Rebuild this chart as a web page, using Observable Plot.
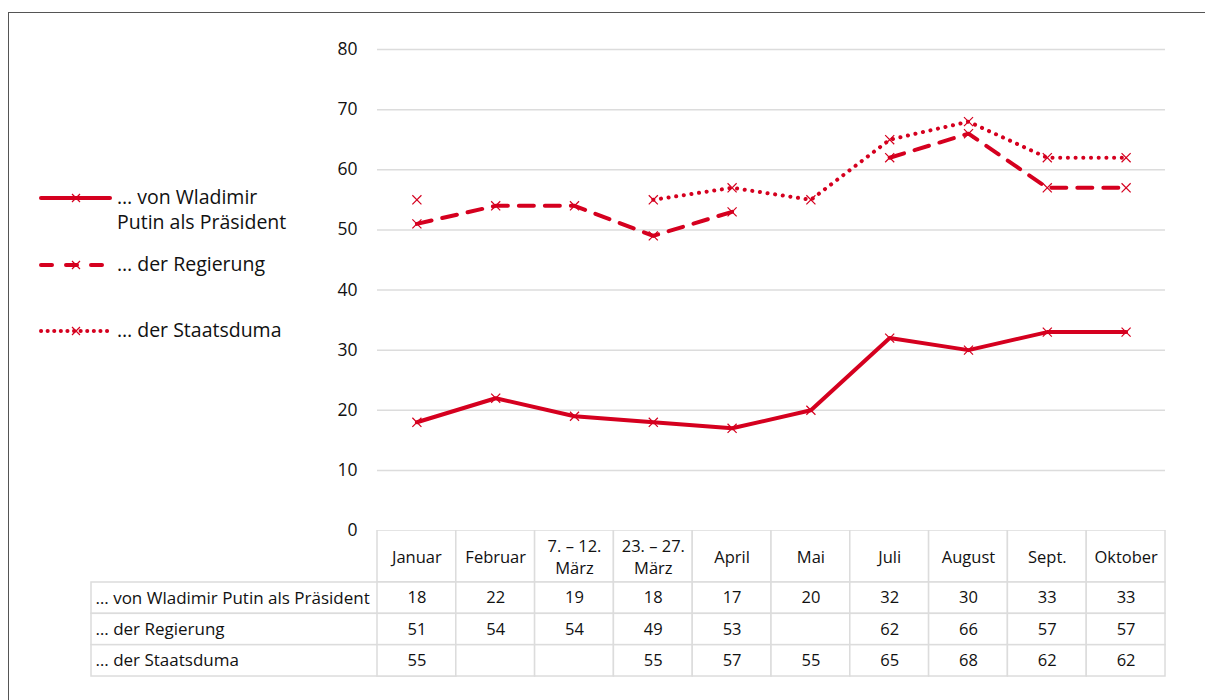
<!DOCTYPE html>
<html><head><meta charset="utf-8">
<script src="https://cdn.jsdelivr.net/npm/d3@7"></script>
<script src="https://cdn.jsdelivr.net/npm/@observablehq/plot@0.6"></script>
<style>
body{margin:0;background:#fff;font-family:"Open Sans",sans-serif;color:#111;}
#wrap{position:relative;width:1205px;height:700px;overflow:hidden;}
#frame{position:absolute;left:8px;top:12px;right:-10px;bottom:-10px;border-left:1.5px solid #555;border-top:1.5px solid #555;}
.abs{position:absolute;left:0;}
.leg{position:absolute;font-size:19.5px;line-height:25px;color:#111;}
.sw{position:absolute;}
</style></head><body>
<div id="wrap"><div id="frame"></div>
<div id="main" class="abs" style="top:0"></div>
<div id="head" class="abs" style="top:530px"></div>
<div id="body" class="abs" style="top:582px"></div>
<div id="legend"></div>
</div>
<script>
const categories = ["Januar","Februar","7. – 12.\nMärz","23. – 27.\nMärz","April","Mai","Juli","August","Sept.","Oktober"];
const seriesNames = ["… von Wladimir Putin als Präsident","… der Regierung","… der Staatsduma"];
const legendLabels = ["… von Wladimir\nPutin als Präsident","… der Regierung","… der Staatsduma"];
const putin = [18,22,19,18,17,20,32,30,33,33];
const regierung = [51,54,54,49,53,null,62,66,57,57];
const duma = [55,null,null,55,57,55,65,68,62,62];
const yTicks = [0,10,20,30,40,50,60,70,80];

const red = "#d5001f";
const grid = "#dcdcdc";
const font = "'Open Sans', sans-serif";
const ink = "#111";
const seriesValues = [putin, regierung, duma];
const dashes = [null, "15,11", "0.1,7.6"];

const long = [];
seriesNames.forEach((s, k) => categories.forEach((c, i) => long.push({series: s, k, cat: c, value: seriesValues[k][i]})));

const lineMarks = seriesNames.map((s, k) => Plot.line(long.filter(d => d.k === k), {
  x: "cat", y: "value", stroke: red, strokeWidth: 4, strokeLinecap: "round", strokeLinejoin: "round",
  strokeDasharray: dashes[k]
}));

const main = Plot.plot({
  width: 1205, height: 582,
  marginLeft: 377, marginRight: 40, marginTop: 49, marginBottom: 52,
  style: {fontFamily: font, fontSize: "17px", color: ink, background: "transparent"},
  x: {type: "point", domain: categories, padding: 0.5, round: false, axis: null},
  y: {domain: [0, 80], axis: null},
  marks: [
    Plot.ruleY(yTicks.filter(d => d > 0), {stroke: grid, strokeWidth: 1.5}),
    Plot.text(yTicks, {y: d => d, text: d => String(d), frameAnchor: "left", dx: -20, textAnchor: "end", fontSize: 17.5, fill: ink}),
    ...lineMarks,
    Plot.dot(long.filter(d => d.value != null), {x: "cat", y: "value", symbol: "times", r: 4.2, stroke: red, strokeWidth: 1.2})
  ]
});
document.getElementById("main").appendChild(main);

const head = Plot.plot({
  width: 1205, height: 53,
  marginLeft: 377, marginRight: 40, marginTop: 0, marginBottom: 1,
  style: {fontFamily: font, fontSize: "16px", color: ink, background: "transparent"},
  x: {type: "band", domain: categories, padding: 0, round: false, axis: null},
  y: {type: "band", domain: ["h"], padding: 0, round: false, axis: null},
  marks: [
    Plot.cell(categories, {x: d => d, y: () => "h", fill: "white", stroke: grid, strokeWidth: 1.5, inset: 0}),
    Plot.text(categories, {x: d => d, y: () => "h", text: d => d, fontSize: 16.5, lineHeight: 1.35, dy: -1, fill: ink})
  ]
});
document.getElementById("head").appendChild(head);

const tableData = long;
const body = Plot.plot({
  width: 1205, height: 95,
  marginLeft: 377, marginRight: 40, marginTop: 0, marginBottom: 1,
  style: {fontFamily: font, fontSize: "16px", color: ink, background: "transparent", overflow: "visible"},
  x: {type: "band", domain: categories, padding: 0, round: false, axis: null},
  y: {type: "band", domain: seriesNames, padding: 0, round: false, axis: null},
  marks: [
    Plot.cell(seriesNames, {y: d => d, x: () => categories[0], inset: 0, insetLeft: -286, fill: "white", stroke: grid, strokeWidth: 1.5}),
    Plot.cell(tableData, {x: "cat", y: "series", inset: 0, fill: "white", stroke: grid, strokeWidth: 1.5}),
    Plot.text(seriesNames, {y: d => d, text: d => d, frameAnchor: "left", textAnchor: "start", dx: -282, fontSize: 17, fill: ink}),
    Plot.text(tableData.filter(d => d.value != null), {x: "cat", y: "series", text: d => String(d.value), fontSize: 16.5, fill: ink})
  ]
});
document.getElementById("body").appendChild(body);

// legend
const legendY = [198, 265, 331];
const leg = document.getElementById("legend");
seriesNames.forEach((s, k) => {
  const sw = d3.select(leg).append("svg").attr("class", "sw")
    .attr("width", 80).attr("height", 20)
    .style("left", "36px").style("top", (legendY[k] - 10) + "px");
  const ln = sw.append("line").attr("x1", 5).attr("x2", 74).attr("y1", 10).attr("y2", 10)
    .attr("stroke", red).attr("stroke-width", 4).attr("stroke-linecap", "round");
  if (dashes[k]) ln.attr("stroke-dasharray", k === 1 ? "11,14" : "0.1,6.5");
  sw.append("path").attr("d", "M36,6L44,14M44,6L36,14").attr("stroke", red).attr("stroke-width", 1.2).attr("fill", "none");
  const t = document.createElement("div");
  t.className = "leg";
  t.style.left = "117px";
  t.style.top = (legendY[k] - 14) + "px";
  t.innerHTML = legendLabels[k].split("\n").join("<br>");
  leg.appendChild(t);
});
</script>
</body></html>
